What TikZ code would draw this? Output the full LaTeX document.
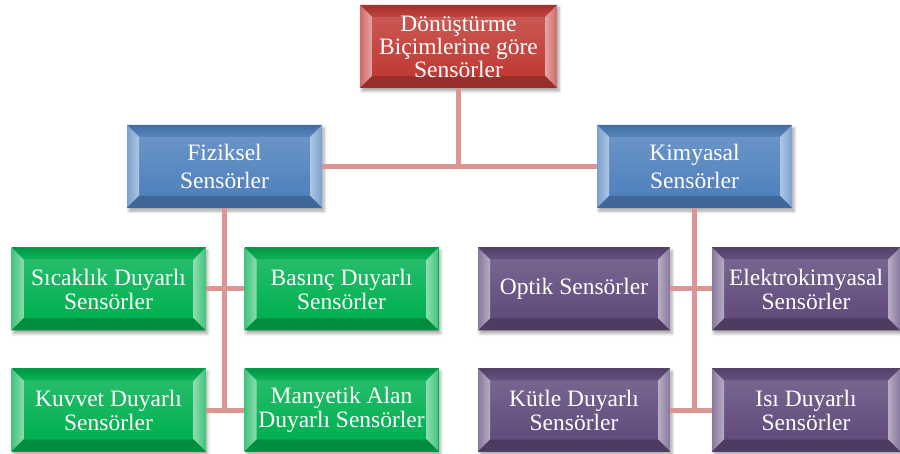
\documentclass[tikz,border=0pt]{standalone}
\usepackage{fontspec}
\setmainfont{Liberation Serif}
\usetikzlibrary{shadows.blur}
\definecolor{rootred}{RGB}{192,58,52}
\definecolor{physblue}{RGB}{79,129,189}
\definecolor{leafgreen}{RGB}{0,176,80}
\definecolor{chempurple}{RGB}{96,74,123}
\definecolor{linkpink}{RGB}{217,150,148}
\tikzset{
  bev/.style={rectangle, inner sep=0pt, minimum width=194pt, minimum height=83pt,
    align=center, text=white, font=\fontsize{23.5}{24}\selectfont, fill=#1,
    blur shadow={shadow xshift=2pt, shadow yshift=-3pt, shadow blur radius=3pt, shadow opacity=35},
    path picture={
      \coordinate (pnw) at (path picture bounding box.north west);
      \coordinate (pne) at (path picture bounding box.north east);
      \coordinate (psw) at (path picture bounding box.south west);
      \coordinate (pse) at (path picture bounding box.south east);
      \coordinate (inw) at ([shift={(12pt,-12pt)}]pnw);
      \coordinate (ine) at ([shift={(-12pt,-12pt)}]pne);
      \coordinate (isw) at ([shift={(12pt,12pt)}]psw);
      \coordinate (ise) at ([shift={(-12pt,12pt)}]pse);
      \shade[top color=#1!85!white, bottom color=#1] (inw) rectangle (ise);
      \shade[top color=#1!85!black, bottom color=#1!95!white] (pnw) -- (pne) -- (ine) -- (inw) -- cycle;
      \shade[left color=#1!75!white, right color=#1!45!white] (pnw) -- (inw) -- (isw) -- (psw) -- cycle;
      \shade[left color=#1!45!white, right color=#1!75!white] (pne) -- (ine) -- (ise) -- (pse) -- cycle;
      \fill[#1!80!black] (psw) -- (isw) -- (ise) -- (pse) -- cycle;
    }},
  link/.style={draw=linkpink, line width=5pt}
}
\begin{document}
\begin{tikzpicture}[x=1pt,y=-1pt]
  \useasboundingbox (0,0) rectangle (900,454);
  % top level
  \node[bev=rootred, minimum width=197pt, font=\fontsize{23.5}{23}\selectfont] (root) at (458.5,46.5)
    {Dönüştürme\\Biçimlerine göre\\Sensörler};
  % second level
  \node[bev=physblue, minimum width=195pt, font=\fontsize{23.5}{28}\selectfont] (fiz) at (224.5,166.5) {Fiziksel\\Sensörler};
  \node[bev=physblue, minimum width=195pt, font=\fontsize{23.5}{28}\selectfont] (kim) at (694.5,166.5) {Kimyasal\\Sensörler};
  % physical sensors
  \node[bev=leafgreen] (sic) at (108.5,289) {Sıcaklık Duyarlı\\Sensörler};
  \node[bev=leafgreen] (bas) at (341.5,289) {Basınç Duyarlı\\Sensörler};
  \node[bev=leafgreen] (kuv) at (108.5,410) {Kuvvet Duyarlı\\Sensörler};
  \node[bev=leafgreen] (man) at (341.5,410) {Manyetik Alan\\Duyarlı Sensörler};
  % chemical sensors
  \node[bev=chempurple, minimum width=192pt] (opt) at (574,289) {Optik Sensörler};
  \node[bev=chempurple, minimum width=188pt] (ele) at (806,289) {Elektrokimyasal\\Sensörler};
  \node[bev=chempurple, minimum width=192pt] (kut) at (574,410) {Kütle Duyarlı\\Sensörler};
  \node[bev=chempurple, minimum width=188pt] (isi) at (806,410) {Isı Duyarlı\\Sensörler};
  % connectors
  \draw[link] (root.south) |- (fiz.east);
  \draw[link] (root.south) |- (kim.west);
  \draw[link] (fiz.south) -- (fiz.south |- kuv.east);
  \draw[link] (sic.east) -- (bas.west);
  \draw[link] (kuv.east) -- (man.west);
  \draw[link] (kim.south) -- (kim.south |- kut.east);
  \draw[link] (opt.east) -- (ele.west);
  \draw[link] (kut.east) -- (isi.west);
\end{tikzpicture}
\end{document}
